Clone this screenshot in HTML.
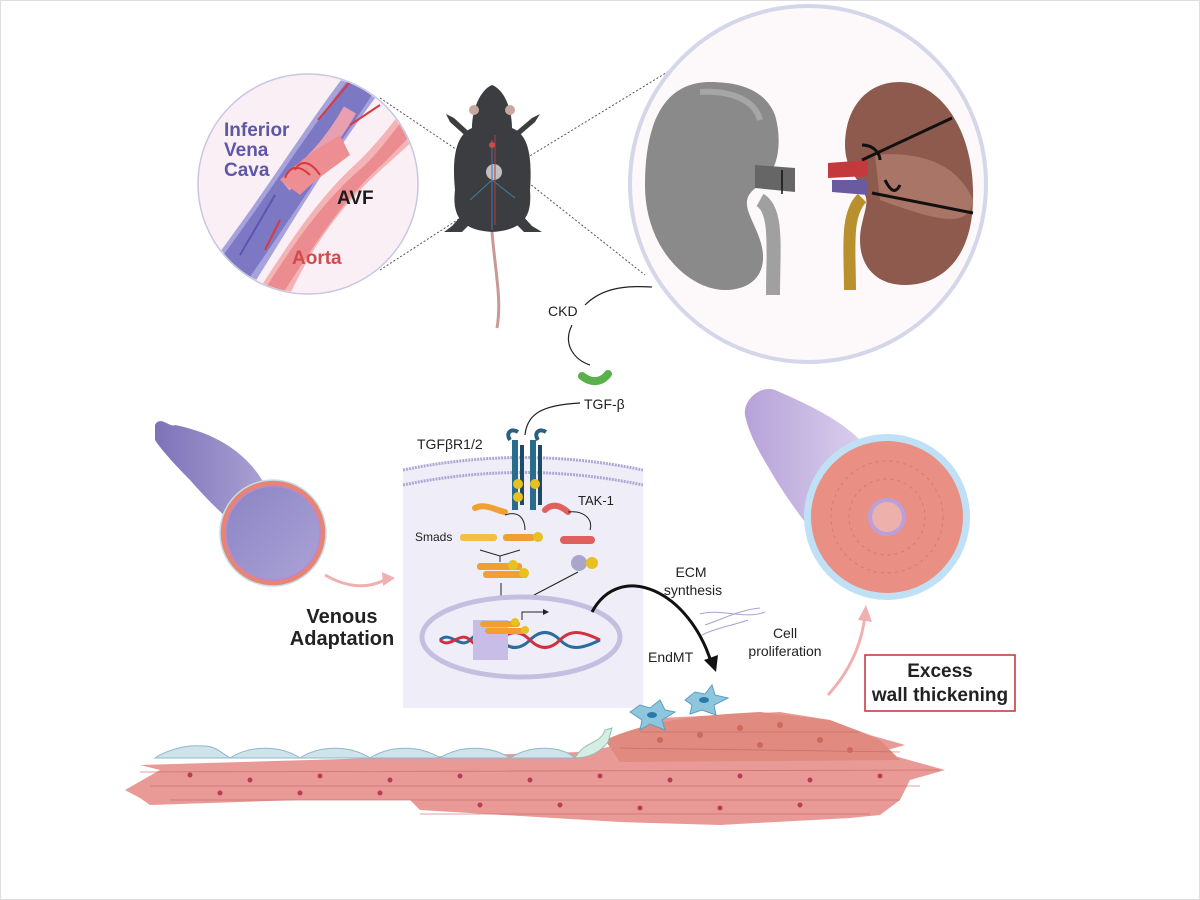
<!DOCTYPE html>
<html><head><meta charset="utf-8"><style>
html,body{margin:0;padding:0;background:#fff}
svg{display:block}
text{font-family:"Liberation Sans",sans-serif}
</style></head><body>
<svg width="1200" height="900" viewBox="0 0 1200 900">
<defs>
<linearGradient id="tubeL" x1="0" y1="0" x2="1" y2="0"><stop offset="0" stop-color="#7d72b8"/><stop offset="1" stop-color="#b9b0dc"/></linearGradient>
<linearGradient id="tubeR" x1="0" y1="0" x2="1" y2="0"><stop offset="0" stop-color="#b7a2d8"/><stop offset="1" stop-color="#ddd5f0"/></linearGradient>
<linearGradient id="lum" x1="0" y1="0" x2="1" y2="1"><stop offset="0" stop-color="#8c84c4"/><stop offset="1" stop-color="#aaa2d6"/></linearGradient>
</defs>
<rect x="0" y="0" width="1200" height="900" fill="#fff"/>
<rect x="0.5" y="0.5" width="1199" height="899" fill="none" stroke="#ddd"/>
<!-- dotted connectors -->
<g stroke="#555" stroke-dasharray="2,2" fill="none">
<line x1="380" y1="98" x2="472" y2="160"/>
<line x1="380" y1="270" x2="465" y2="215"/>
<line x1="520" y1="162" x2="674" y2="68"/>
<line x1="525" y1="180" x2="645" y2="275"/>
</g>
<!-- left circle -->
<circle cx="308" cy="184" r="110" fill="#fbeff6" stroke="#c9c6e2" stroke-width="1.5"/>
<clipPath id="lc"><circle cx="308" cy="184" r="109"/></clipPath>
<g clip-path="url(#lc)">
<path d="M210 265 C260 200 310 120 345 75 L385 85 C335 150 300 210 250 290 Z" fill="#a6a2dc"/>
<path d="M218 262 C265 200 312 125 350 78 L378 86 C335 150 300 205 245 284 Z" fill="#7d78c4"/>
<path d="M285 185 C310 165 330 145 350 110" stroke="#e8a0b0" stroke-width="14" fill="none"/>
<path d="M252 300 C285 250 315 200 360 160 C380 140 395 120 410 100 L435 120 C410 145 385 165 365 185 C330 220 305 260 285 305 Z" fill="#f4b4b6"/>
<path d="M258 300 C290 250 318 205 365 165 C385 145 398 125 412 108 L426 118 C405 142 385 162 368 178 C332 215 308 255 276 304 Z" fill="#ea8c90"/>
<path d="M280 180 C300 160 315 150 340 135 L350 155 C330 170 315 180 300 195 Z" fill="#ec8e92"/>
<g stroke="#d83a3e" stroke-width="2" fill="none">
<path d="M318 120 L350 82"/><path d="M380 105 L350 125"/><path d="M280 220 L265 250"/>
<path d="M310 175 C300 165 290 165 285 178"/><path d="M320 175 C310 160 300 160 295 170"/>
</g>
<path d="M240 255 L275 195" stroke="#5b56b0" stroke-width="2"/>
</g>
<text x="224" y="136" font-size="19" font-weight="bold" fill="#5e57a8">Inferior</text>
<text x="224" y="156" font-size="19" font-weight="bold" fill="#5e57a8">Vena</text>
<text x="224" y="176" font-size="19" font-weight="bold" fill="#5e57a8">Cava</text>
<text x="337" y="204" font-size="19" font-weight="bold" fill="#1c1c1c">AVF</text>
<text x="292" y="264" font-size="19" font-weight="bold" fill="#d04a4e">Aorta</text>
<!-- mouse -->
<g fill="#3b3d40">
<path d="M492 85 C505 90 512 110 512 128 C530 135 532 160 530 190 C532 215 525 230 492 232 C460 230 452 215 455 190 C452 160 455 135 472 128 C472 110 480 90 492 85Z"/>
<path d="M470 140 L450 122 L446 114 L454 118 L478 140Z"/>
<path d="M514 140 L535 122 L540 114 L532 118 L506 140Z"/>
<path d="M462 215 L452 226 L444 232 L462 232 L472 222Z"/>
<path d="M522 215 L532 226 L542 232 L524 232 L514 222Z"/>
</g>
<circle cx="474" cy="110" r="5" fill="#c9a7a0"/><circle cx="510" cy="110" r="5" fill="#c9a7a0"/>
<path d="M492 232 C495 270 502 300 497 328" stroke="#c99a94" stroke-width="3" fill="none"/>
<circle cx="494" cy="172" r="8" fill="#bfbfc4"/>
<path d="M492 140 L492 230 M492 180 L470 200 M492 180 L515 198" stroke="#3f7fa0" stroke-width="1"/>
<path d="M495 135 L495 225" stroke="#b83b40" stroke-width="1"/>
<circle cx="492" cy="145" r="3" fill="#d04848"/>
<!-- big right circle -->
<circle cx="808" cy="184" r="178" fill="#fdf9fa" stroke="#d4d6ea" stroke-width="4"/>
<path d="M710 82 C660 82 645 130 645 185 C645 250 690 290 725 290 C755 290 770 270 760 240 C752 215 735 200 760 185 C780 170 782 140 775 115 C765 90 740 82 710 82Z" fill="#8a8a8a"/>
<path d="M700 92 C730 90 755 100 760 120" stroke="#a6a6a6" stroke-width="6" fill="none"/>
<path d="M755 165 L795 168 L795 192 L755 188Z" fill="#666"/>
<path d="M782 170 L782 194" stroke="#111" stroke-width="1.5"/>
<path d="M760 200 C778 210 773 250 773 295" stroke="#a0a0a0" stroke-width="14" fill="none"/>
<path d="M900 82 C940 82 975 130 973 200 C972 260 940 285 905 285 C875 285 860 265 860 240 C860 220 870 205 865 195 C860 180 845 170 845 145 C845 110 865 82 900 82Z" fill="#8e5a4e"/>
<path d="M875 155 C930 150 960 170 973 200 C970 230 935 220 880 200 Z" fill="#a87566"/>
<path d="M828 163 L868 160 L868 176 L828 178Z" fill="#c4393c"/>
<path d="M832 180 L868 180 L868 195 L832 192Z" fill="#6a5aa0"/>
<path d="M862 198 C845 215 850 250 850 290" stroke="#b8902e" stroke-width="12" fill="none"/>
<path d="M862 160 L952 118 M872 193 L973 213" stroke="#111" stroke-width="3"/>
<path d="M862 145 C875 145 880 155 880 160 M885 180 C890 190 895 195 900 185" stroke="#111" stroke-width="3" fill="none"/>
<!-- CKD / TGF -->
<path d="M652 287 C620 285 600 290 585 305" stroke="#222" fill="none" stroke-width="1.2"/>
<text x="548" y="316" font-size="14" fill="#222">CKD</text>
<path d="M572 325 C562 345 575 360 590 365" stroke="#222" fill="none" stroke-width="1.2"/>
<path d="M582 376 C592 384 602 382 608 374" stroke="#5ab04a" stroke-width="8" stroke-linecap="round" fill="none"/>
<text x="584" y="409" font-size="14" fill="#222">TGF-β</text>
<path d="M580 403 C540 405 527 415 525 435" stroke="#222" fill="none" stroke-width="1.2"/>
<!-- cell panel -->
<path d="M403 470 Q523 445 643 470 L643 708 L403 708Z" fill="#eeedf8"/>
<path d="M403 470 Q523 445 643 470" stroke="#b0a8d4" stroke-width="3" fill="none" stroke-dasharray="2,1"/>
<path d="M403 485 Q523 460 643 485" stroke="#b0a8d4" stroke-width="3" fill="none" stroke-dasharray="2,1"/>
<text x="417" y="449" font-size="14" fill="#222">TGFβR1/2</text>
<path d="M510 440 C505 432 512 428 518 432 M538 440 C533 432 540 428 546 432" stroke="#2a5f80" stroke-width="4" fill="none"/>
<rect x="512" y="440" width="6" height="70" fill="#2a6c8c"/>
<rect x="520" y="445" width="4" height="60" fill="#1d4a66"/>
<rect x="530" y="440" width="6" height="70" fill="#2a6c8c"/>
<rect x="538" y="445" width="4" height="60" fill="#1d4a66"/>
<circle cx="518" cy="484" r="5" fill="#e8c020"/><circle cx="535" cy="484" r="5" fill="#e8c020"/><circle cx="518" cy="497" r="5" fill="#e8c020"/>
<text x="578" y="505" font-size="13" fill="#222">TAK-1</text>
<text x="415" y="541" font-size="12" fill="#222">Smads</text>
<path d="M475 508 C485 503 495 510 505 512" stroke="#f0a030" stroke-width="6" stroke-linecap="round" fill="none"/>
<path d="M545 510 C552 503 560 505 568 512" stroke="#e06060" stroke-width="6" stroke-linecap="round" fill="none"/>
<path d="M505 515 C520 510 525 520 525 530 M568 512 C585 510 593 520 590 530" stroke="#222" fill="none"/>
<rect x="460" y="534" width="37" height="7" rx="3" fill="#f0c040"/>
<rect x="503" y="534" width="32" height="7" rx="3" fill="#f0a030"/>
<circle cx="538" cy="537" r="5" fill="#e8c020"/>
<rect x="560" y="536" width="35" height="8" rx="4" fill="#e06060"/>
<path d="M480 550 L500 556 L520 550 M500 556 L500 562" stroke="#222" fill="none"/>
<rect x="477" y="563" width="45" height="7" rx="3" fill="#f0a030"/>
<rect x="483" y="571" width="45" height="7" rx="3" fill="#f0a030"/>
<circle cx="513" cy="565" r="5" fill="#e8c020"/><circle cx="524" cy="573" r="5" fill="#e8c020"/>
<circle cx="579" cy="563" r="8" fill="#a9a6cc"/><circle cx="592" cy="563" r="6" fill="#e8c020"/>
<path d="M501 583 L501 605 M578 572 L515 605" stroke="#222"/>
<ellipse cx="521" cy="637" rx="99" ry="40" fill="#eeedf8" stroke="#c4bfe0" stroke-width="5"/>
<path d="M440 640 C450 630 460 650 470 640 S490 630 500 640 S520 650 530 640 S550 630 560 640 S580 650 600 640" stroke="#2a6c9c" stroke-width="3" fill="none"/>
<path d="M440 640 C450 650 460 630 470 640 S490 650 500 640 S520 630 530 640 S550 650 560 640 S580 630 600 640" stroke="#d03040" stroke-width="3" fill="none"/>
<path d="M473 620 L508 620 L508 660 L473 660Z" fill="#c8bde6"/>
<rect x="480" y="621" width="40" height="6" rx="3" fill="#f0a030"/>
<rect x="485" y="628" width="40" height="6" rx="3" fill="#f0a030"/>
<circle cx="515" cy="622" r="4" fill="#e8c020"/><circle cx="525" cy="630" r="4" fill="#e8c020"/>
<path d="M522 620 L522 612 L545 612" stroke="#222" fill="none"/><path d="M543 609 L549 612 L543 615Z" fill="#222"/>
<!-- ECM arrow -->
<path d="M592 612 C620 560 690 590 712 665" stroke="#111" stroke-width="3" fill="none"/>
<path d="M704 660 L716 672 L718 655Z" fill="#111"/>
<text x="691" y="577" font-size="14" fill="#222" text-anchor="middle">ECM</text>
<text x="693" y="595" font-size="14" fill="#222" text-anchor="middle">synthesis</text>
<text x="785" y="638" font-size="14" fill="#222" text-anchor="middle">Cell</text>
<text x="785" y="656" font-size="14" fill="#222" text-anchor="middle">proliferation</text>
<text x="648" y="662" font-size="14" fill="#222">EndMT</text>
<path d="M700 614 C720 608 745 620 765 612 M705 625 C725 618 740 610 760 608 M702 635 C715 628 735 625 748 620" stroke="#a9a2d4" fill="none"/>
<!-- left vessel -->
<path d="M155 425 C160 415 170 428 175 425 C225 435 250 460 262 480 L300 560 C255 545 225 520 190 480 C170 460 158 445 155 440Z" fill="url(#tubeL)"/>
<circle cx="273" cy="533" r="53" fill="#e88474" stroke="#bfe0ea" stroke-width="1.5"/>
<circle cx="273" cy="533" r="47" fill="url(#lum)" stroke="#b68ad0" stroke-width="1.5"/>
<path d="M325 575 Q360 595 388 578" stroke="#f0b0b0" stroke-width="3" fill="none"/>
<path d="M382 572 L395 578 L383 586Z" fill="#f0b0b0"/>
<text x="342" y="623" font-size="20" font-weight="bold" fill="#222" text-anchor="middle">Venous</text>
<text x="342" y="645" font-size="20" font-weight="bold" fill="#222" text-anchor="middle">Adaptation</text>
<!-- right vessel -->
<path d="M745 415 C743 400 760 385 775 390 C810 405 840 420 860 440 L880 600 C830 560 790 505 770 470 C755 445 748 430 745 415Z" fill="url(#tubeR)"/>
<circle cx="887" cy="517" r="83" fill="#bfe0f5"/>
<circle cx="887" cy="517" r="76" fill="#ea8f84"/>
<circle cx="887" cy="517" r="56" fill="none" stroke="#d87a72" stroke-width="1" stroke-dasharray="3,4"/>
<circle cx="887" cy="517" r="38" fill="none" stroke="#d87a72" stroke-width="1" stroke-dasharray="3,4"/>
<circle cx="887" cy="517" r="19" fill="#b9a0dc"/>
<circle cx="887" cy="517" r="15" fill="#eeb0aa"/>
<path d="M828 695 Q860 660 865 615" stroke="#f0b0b0" stroke-width="3" fill="none"/>
<path d="M858 620 L866 605 L872 622Z" fill="#f0b0b0"/>
<rect x="865" y="655" width="150" height="56" fill="#fff" stroke="#c03036" stroke-width="1.5"/>
<text x="940" y="677" font-size="19" font-weight="bold" fill="#222" text-anchor="middle">Excess</text>
<text x="940" y="701" font-size="19" font-weight="bold" fill="#222" text-anchor="middle">wall thickening</text>
<!-- tissue -->
<path d="M125 790 L160 770 L140 765 L580 752 L620 745 C640 725 650 720 660 718 L780 712 L830 720 L870 735 L905 745 L880 752 L945 770 L910 780 L900 800 L880 815 L850 818 L720 825 L620 822 L420 810 L410 800 L300 800 L150 805 L140 798Z" fill="#e99a97"/>
<path d="M605 740 C650 720 700 715 760 712 L830 720 L880 740 L900 760 L620 762Z" fill="#e08a80"/>
<g fill="#cfe3ea" stroke="#8fb8cc" stroke-width="1">
<path d="M155 758 C170 748 190 745 200 746 C215 745 220 752 230 758Z"/>
<path d="M230 758 C250 745 280 745 300 758Z"/>
<path d="M300 758 C320 745 350 745 370 758Z"/>
<path d="M370 758 C390 745 420 745 440 758Z"/>
<path d="M440 758 C460 745 490 745 510 758Z"/>
<path d="M510 758 C530 745 560 745 575 758Z"/>
</g>
<path d="M575 758 C585 740 600 745 605 730 L612 728 L608 742 C600 752 590 758 575 758Z" fill="#d6ede4" stroke="#8fc0b0"/>
<g stroke="#c06868" stroke-width="0.8" fill="none" opacity="0.8">
<path d="M140 772 L940 770 M150 786 L920 786 M170 800 L900 800 M420 814 L870 814 M640 732 L860 732 M620 748 L900 752"/>
</g>
<g fill="#b83e56">
<circle cx="190" cy="775" r="2.5"/><circle cx="250" cy="780" r="2.5"/><circle cx="320" cy="776" r="2.5"/><circle cx="390" cy="780" r="2.5"/><circle cx="460" cy="776" r="2.5"/><circle cx="530" cy="780" r="2.5"/><circle cx="600" cy="776" r="2.5"/><circle cx="670" cy="780" r="2.5"/><circle cx="740" cy="776" r="2.5"/><circle cx="810" cy="780" r="2.5"/><circle cx="880" cy="776" r="2.5"/>
<circle cx="220" cy="793" r="2.5"/><circle cx="300" cy="793" r="2.5"/><circle cx="380" cy="793" r="2.5"/><circle cx="480" cy="805" r="2.5"/><circle cx="560" cy="805" r="2.5"/><circle cx="640" cy="808" r="2.5"/><circle cx="720" cy="808" r="2.5"/><circle cx="800" cy="805" r="2.5"/>
</g>
<g fill="#cc6a5c"><circle cx="660" cy="740" r="3"/><circle cx="700" cy="735" r="3"/><circle cx="740" cy="728" r="3"/><circle cx="780" cy="725" r="3"/><circle cx="820" cy="740" r="3"/><circle cx="760" cy="745" r="3"/><circle cx="850" cy="750" r="3"/></g>
<g fill="#8ec6de" stroke="#5a9fc0"><path d="M630 712 L640 705 L650 708 L660 700 L665 710 L675 712 L662 720 L665 730 L650 724 L640 730 L642 720Z"/><path d="M685 700 L695 692 L705 694 L712 685 L715 695 L728 698 L714 705 L716 715 L702 710 L690 714 L692 705Z"/></g>
<ellipse cx="652" cy="715" rx="5" ry="3" fill="#2a7aa8"/><ellipse cx="704" cy="700" rx="5" ry="3" fill="#2a7aa8"/>
</svg>
</body></html>
